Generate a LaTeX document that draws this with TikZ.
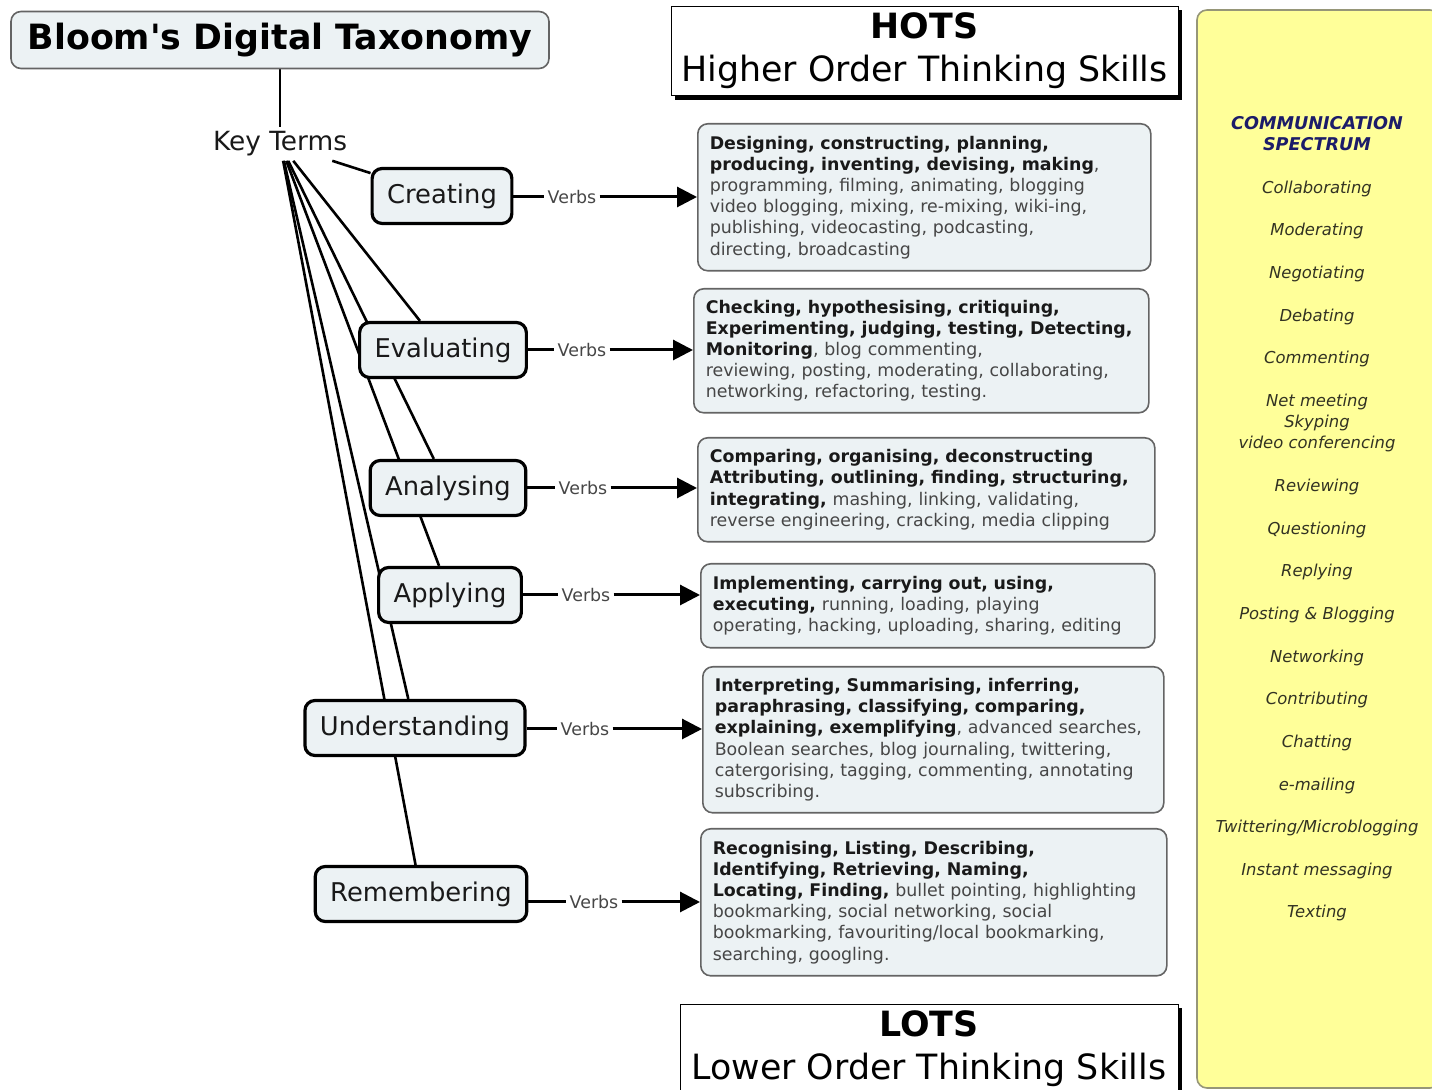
\documentclass[tikz,border=0pt]{standalone}
\usepackage{fontspec}
\setmainfont{DejaVu Sans}
\usepackage{tikz}
\usetikzlibrary{shapes,arrows.meta,positioning,backgrounds,shadows}
\definecolor{boxfill}{RGB}{236, 242, 244}
\definecolor{boxline}{RGB}{100, 100, 100}
\definecolor{greytext}{RGB}{70, 70, 70}
\definecolor{darktext}{RGB}{25, 25, 25}
\definecolor{yellowfill}{RGB}{255, 255, 153}
\definecolor{yellowline}{RGB}{150, 150, 120}
\definecolor{listtext}{RGB}{50, 50, 35}
\definecolor{navy}{RGB}{28, 28, 105}
\newcommand{\keyverbs}[1]{\textcolor{darktext}{\textbf{#1}}}
\tikzstyle{heading} = [rectangle, rounded corners=5pt, draw=boxline, line width=0.8pt, fill=boxfill, text=black, font=\bfseries\fontsize{17.4}{20}\selectfont, minimum width=269pt, minimum height=28.5pt]
\tikzstyle{keyterm} = [inner sep=2pt, text=darktext, font=\fontsize{13.2}{15}\selectfont]
\tikzstyle{stage} = [rectangle, rounded corners=5pt, draw=black, line width=1.6pt, fill=boxfill, text=darktext, font=\fontsize{12.9}{15}\selectfont, minimum height=27.5pt, inner xsep=7.5pt]
\tikzstyle{verbtext} = [inner sep=1.5pt, text=greytext, font=\fontsize{8.7}{10}\selectfont]
\tikzstyle{verbbox} = [rectangle, rounded corners=5pt, draw=boxline, line width=0.8pt, fill=boxfill, text=greytext, font=\fontsize{8.7}{10.6}\selectfont, align=left, inner xsep=6pt, inner ysep=4pt, anchor=north west]
\tikzstyle{orderbox} = [rectangle, draw=black, line width=0.5pt, fill=white, align=center, font=\fontsize{17.4}{21.5}\selectfont, drop shadow={shadow xshift=2pt, shadow yshift=-2pt, fill=black, opacity=1}]
\tikzstyle{spectrum} = [rectangle, rounded corners=5pt, draw=yellowline, line width=0.8pt, fill=yellowfill]
\tikzstyle{tedge}  = [draw, line width=1.3pt]
\tikzstyle{tlink}  = [draw, line width=1.5pt]
\tikzstyle{tarrow} = [draw, line width=1.5pt, -{Triangle[length=10pt, width=10pt]}]

\begin{document}
\begin{tikzpicture}[x=0.5pt, y=-0.5pt]
\useasboundingbox (0,0) rectangle (1432,1090);

% headings =============================

\node[heading] (bloom) at (280,40) {Bloom\textquotesingle s Digital Taxonomy};
\node[keyterm, below=29pt of bloom] (kt) {Key Terms};
\node[orderbox, minimum width=253.5pt, minimum height=44pt] (hots) at (924.5,51) {{\bfseries HOTS}\\Higher Order Thinking Skills};
\node[orderbox, minimum width=249pt, minimum height=44pt] (lots) at (929,1049) {{\bfseries LOTS}\\Lower Order Thinking Skills};

% communication spectrum
\node[spectrum, minimum width=121.5pt, minimum height=539pt] (spec) at (1318.5,549) {};
\node[align=center, text=navy, font=\bfseries\itshape\fontsize{8.8}{10.6}\selectfont] (commhead) at (1317,134) {COMMUNICATION\\SPECTRUM};
\node[align=center, text=listtext, font=\itshape\fontsize{8.2}{10.66}\selectfont] (commlist) at (1317,551) {Collaborating\\[10.66pt]Moderating\\[10.66pt]Negotiating\\[10.66pt]Debating\\[10.66pt]Commenting\\[10.66pt]Net meeting\\Skyping\\video conferencing\\[10.66pt]Reviewing\\[10.66pt]Questioning\\[10.66pt]Replying\\[10.66pt]Posting \& Blogging\\[10.66pt]Networking\\[10.66pt]Contributing\\[10.66pt]Chatting\\[10.66pt]e-mailing\\[10.66pt]Twittering/Microblogging\\[10.66pt]Instant messaging\\[10.66pt]Texting};

% stages
\node[stage] (create) at (442,196) {Creating};
\node[stage] (eval) at (443,350) {Evaluating};
\node[stage] (anal) at (448,488) {Analysing};
\node[stage] (apply) at (450,595) {Applying};
\node[stage] (under) at (415,728) {Understanding};
\node[stage] (remem) at (421,894) {Remembering};

% verbs
\node[verbtext] (v1) at (572,197) {Verbs};
\node[verbtext] (v2) at (582,350) {Verbs};
\node[verbtext] (v3) at (583,488) {Verbs};
\node[verbtext] (v4) at (586,595) {Verbs};
\node[verbtext] (v5) at (585,729) {Verbs};
\node[verbtext] (v6) at (594,902) {Verbs};

% verb lists
\node[verbbox, text width=214.5pt, minimum height=73.5pt] (box1) at (697,123) {\keyverbs{Designing, constructing, planning,}\\
\keyverbs{producing, inventing, devising, making},\\
programming, filming, animating, blogging\\
video blogging, mixing, re-mixing, wiki-ing,\\
publishing, videocasting, podcasting,\\
directing, broadcasting};
\node[verbbox, text width=215.5pt, minimum height=62pt] (box2) at (693,288) {\keyverbs{Checking, hypothesising, critiquing,}\\
\keyverbs{Experimenting, judging, testing, Detecting,}\\
\keyverbs{Monitoring}, blog commenting,\\
reviewing, posting, moderating, collaborating,\\
networking, refactoring, testing.};
\node[verbbox, text width=216.5pt, minimum height=52pt] (box3) at (697,437) {\keyverbs{Comparing, organising, deconstructing}\\
\keyverbs{Attributing, outlining, finding, structuring,}\\
\keyverbs{integrating,} mashing, linking, validating,\\
reverse engineering, cracking, media clipping};
\node[verbbox, text width=215pt, minimum height=42pt] (box4) at (700,563) {\keyverbs{Implementing, carrying out, using,}\\
\keyverbs{executing,} running, loading, playing\\
operating, hacking, uploading, sharing, editing};
\node[verbbox, text width=218.5pt, minimum height=73pt] (box5) at (702,666) {\keyverbs{Interpreting, Summarising, inferring,}\\
\keyverbs{paraphrasing, classifying, comparing,}\\
\keyverbs{explaining, exemplifying}, advanced searches,\\
Boolean searches, blog journaling, twittering,\\
catergorising, tagging, commenting, annotating\\
subscribing.};
\node[verbbox, text width=221pt, minimum height=73.5pt] (box6) at (700,828) {\keyverbs{Recognising, Listing, Describing,}\\
\keyverbs{Identifying, Retrieving, Naming,}\\
\keyverbs{Locating, Finding,} bullet pointing, highlighting\\
bookmarking, social networking, social\\
bookmarking, favouriting/local bookmarking,\\
searching, googling.};

%edges
\begin{scope}[on background layer]
\path[tedge] (bloom) -- (kt);
\path[tedge] (kt) -- (create);
\path[tedge] (kt) -- (eval);
\path[tedge] (kt) -- (anal);
\path[tedge] (kt) -- (apply);
\path[tedge] (kt) -- (under);
\path[tedge] (kt) -- (remem);
\end{scope}

\path[tlink] (create.east |- v1) -- (v1);
\path[tlink] (eval.east |- v2) -- (v2);
\path[tlink] (anal.east |- v3) -- (v3);
\path[tlink] (apply.east |- v4) -- (v4);
\path[tlink] (under.east |- v5) -- (v5);
\path[tlink] (remem.east |- v6) -- (v6);

\path[tarrow] (v1) -- (v1 -| box1.west);
\path[tarrow] (v2) -- (v2 -| box2.west);
\path[tarrow] (v3) -- (v3 -| box3.west);
\path[tarrow] (v4) -- (v4 -| box4.west);
\path[tarrow] (v5) -- (v5 -| box5.west);
\path[tarrow] (v6) -- (v6 -| box6.west);

\end{tikzpicture}
\end{document}
